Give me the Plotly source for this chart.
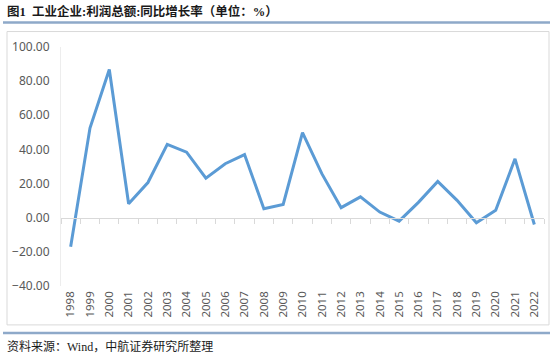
import plotly.graph_objects as go

years = [str(y) for y in range(1998, 2023)]
growth = [-17.0, 52.5, 86.8, 8.2, 20.6, 43.0, 38.4, 23.2, 31.6, 37.0, 5.3, 7.8,
          49.8, 25.8, 5.9, 12.2, 3.3, -2.0, 9.0, 21.2, 10.2, -3.0, 4.3, 34.5, -4.0]
y_ticks = [-40, -20, 0, 20, 40, 60, 80, 100]

W, H = 550, 355
L, R, T, B = 61, 6, 46.5, 69
pw, ph = W - L - R, H - T - B

def px(x):
    return (x - L) / pw

def py(y):
    return (H - B - y) / ph

fig = go.Figure()
fig.add_trace(go.Scatter(x=years, y=growth, mode="lines",
                         line=dict(color="#5B9BD5", width=3), xaxis="x", yaxis="y",
                         showlegend=False, hoverinfo="skip"))
fig.add_trace(go.Scatter(x=years, y=[None]*len(years), xaxis="x2", yaxis="y",
                         showlegend=False, hoverinfo="skip"))

zero_pos = (0 - y_ticks[0]) / (y_ticks[-1] - y_ticks[0])

fig.update_layout(
    width=W, height=H,
    margin=dict(l=L, r=R, t=T, b=B),
    paper_bgcolor="white", plot_bgcolor="white",
    font=dict(family="Noto Sans, Noto Sans CJK SC", color="#595959", size=12),
    xaxis=dict(type="category", categoryorder="array", categoryarray=years,
               range=[-0.5, len(years) - 0.5],
               showgrid=False, showline=False, zeroline=False,
               tickangle=-90, ticks="", tickfont=dict(size=11.5, color="#595959"),
               ticklabelstandoff=2),
    xaxis2=dict(type="category", categoryorder="array", categoryarray=years,
                range=[-0.5, len(years) - 0.5], overlaying="x", anchor="free",
                position=zero_pos, showgrid=False, showline=True,
                linecolor="#D9D9D9", linewidth=1.2, ticks="outside",
                tickson="boundaries", ticklen=5, tickcolor="#D9D9D9",
                showticklabels=False, zeroline=False),
    yaxis=dict(range=[y_ticks[0], y_ticks[-1]], tickvals=y_ticks,
               tickformat=".2f", showgrid=False, zeroline=False,
               showline=True, linecolor="#EDEDED", linewidth=1,
               ticks="", tickfont=dict(size=12, color="#595959"),
               ticklabelstandoff=8),
)

shapes = [
    dict(type="rect", xref="paper", yref="paper",
         x0=px(7), x1=px(549), y0=py(325), y1=py(31),
         line=dict(color="#D9D9D9", width=1), fillcolor="rgba(0,0,0,0)", layer="below"),
    dict(type="line", xref="paper", yref="paper",
         x0=px(3), x1=px(550), y0=py(22), y1=py(22),
         line=dict(color="#8EA9C9", width=2.5)),
    dict(type="line", xref="paper", yref="paper",
         x0=px(3), x1=px(550), y0=py(333), y1=py(333),
         line=dict(color="#8EA9C9", width=2.5)),
]
fig.update_layout(shapes=shapes)

fig.add_annotation(xref="paper", yref="paper", x=px(5), y=py(11),
                   xanchor="left", yanchor="middle", showarrow=False,
                   text="<b>图1  工业企业:利润总额:同比增长率（单位：%）</b>",
                   font=dict(family="Liberation Serif, Noto Sans CJK SC", size=12.5, color="#1a1a1a"))
fig.add_annotation(xref="paper", yref="paper", x=px(5), y=py(347),
                   xanchor="left", yanchor="middle", showarrow=False,
                   text="资料来源：Wind，中航证券研究所整理",
                   font=dict(family="Liberation Serif, Noto Sans CJK SC", size=12, color="#1a1a1a"))

fig.write_html("out.html")
